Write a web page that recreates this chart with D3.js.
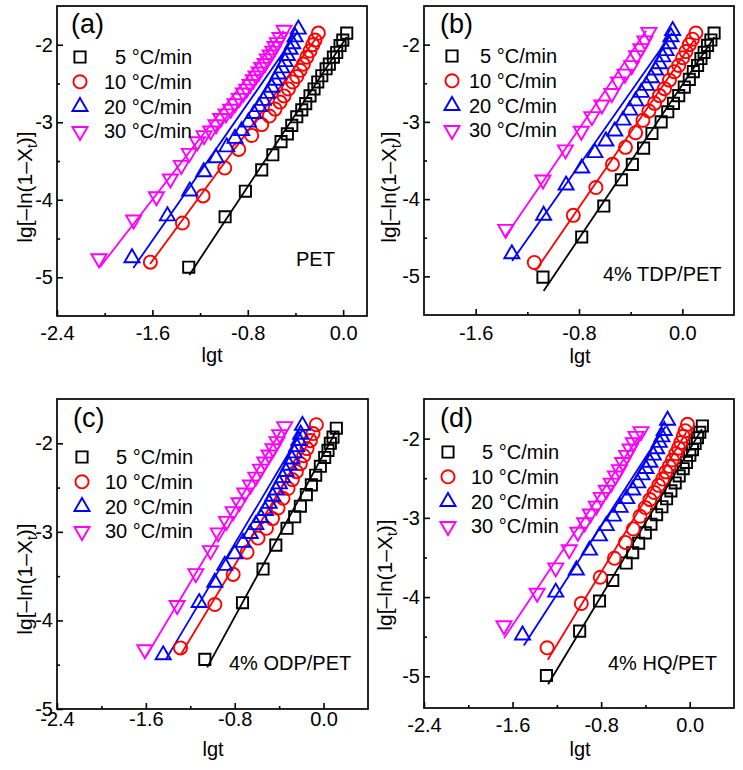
<!DOCTYPE html>
<html>
<head>
<meta charset="utf-8">
<script src="https://cdn.jsdelivr.net/npm/d3@7"></script>
<style>
  body { margin: 0; background: #fff; }
  text { font-family: "Liberation Sans", Arial, sans-serif; }
</style>
</head>
<body>
<svg id="chart" width="743" height="770"></svg>
<script>
// heating rates (legend) and series styling order
const rates = ["5 °C/min", "10 °C/min", "20 °C/min", "30 °C/min"]
const colors = ["#000000", "#ff0000", "#0000ff", "#ff00ff"]
const shapes = ["square", "circle", "up", "down"]

// (a) PET  [lgt, lg(-ln(1-Xt))]
const a5 = [[-1.295,-4.87],[-0.99,-4.22],[-0.82,-3.89],[-0.683,-3.615],[-0.59,-3.42],[-0.521,-3.25],[-0.468,-3.15],[-0.431,-3.04],[-0.389,-2.93],[-0.347,-2.84],[-0.314,-2.76],[-0.278,-2.66],[-0.244,-2.57],[-0.213,-2.48],[-0.179,-2.4],[-0.143,-2.31],[-0.116,-2.25],[-0.082,-2.16],[-0.054,-2.1],[-0.026,-2.01],[-0.003,-1.94],[0.03,-1.85]]
const a10 = [[-1.617,-4.805],[-1.348,-4.3],[-1.175,-3.95],[-0.993,-3.59],[-0.876,-3.35],[-0.767,-3.17],[-0.683,-3.03],[-0.619,-2.92],[-0.571,-2.83],[-0.529,-2.74],[-0.496,-2.66],[-0.459,-2.57],[-0.423,-2.48],[-0.389,-2.41],[-0.361,-2.33],[-0.334,-2.25],[-0.305,-2.16],[-0.278,-2.08],[-0.255,-2.0],[-0.236,-1.94],[-0.208,-1.85]]
const a20 = [[-1.771,-4.75],[-1.474,-4.21],[-1.287,-3.89],[-1.169,-3.64],[-1.066,-3.46],[-0.976,-3.32],[-0.907,-3.21],[-0.851,-3.11],[-0.795,-3.0],[-0.747,-2.89],[-0.705,-2.8],[-0.669,-2.72],[-0.636,-2.63],[-0.599,-2.55],[-0.571,-2.46],[-0.543,-2.38],[-0.515,-2.3],[-0.487,-2.22],[-0.468,-2.14],[-0.445,-2.06],[-0.423,-1.99],[-0.403,-1.9],[-0.376,-1.8]]
const a30 = [[-2.048,-4.76],[-1.757,-4.26],[-1.566,-3.96],[-1.449,-3.73],[-1.357,-3.555],[-1.29,-3.4],[-1.223,-3.25],[-1.167,-3.17],[-1.111,-3.11],[-1.066,-3.03],[-1.027,-2.95],[-0.982,-2.89],[-0.943,-2.83],[-0.907,-2.76],[-0.871,-2.69],[-0.837,-2.62],[-0.809,-2.57],[-0.781,-2.51],[-0.753,-2.45],[-0.731,-2.4],[-0.705,-2.35],[-0.683,-2.29],[-0.655,-2.24],[-0.636,-2.18],[-0.613,-2.13],[-0.59,-2.08],[-0.571,-2.02],[-0.552,-1.97],[-0.529,-1.905],[-0.496,-1.81]]
// fitted lines: [x0, y0, x1, y1]
const fitA = [[-1.29,-4.97,0.03,-1.9],[-1.62,-4.83,-0.21,-1.88],[-1.76,-4.88,-0.38,-1.83],[-2.04,-4.87,-0.5,-1.82]]

// (b) 4% TDP/PET
const b5 = [[-1.079,-5.01],[-0.779,-4.49],[-0.608,-4.09],[-0.472,-3.75],[-0.387,-3.55],[-0.3,-3.34],[-0.235,-3.15],[-0.164,-3.0],[-0.113,-2.87],[-0.069,-2.76],[-0.028,-2.66],[0.015,-2.55],[0.054,-2.45],[0.085,-2.35],[0.118,-2.27],[0.144,-2.18],[0.169,-2.1],[0.195,-2.01],[0.221,-1.94],[0.246,-1.85]]
const b10 = [[-1.146,-4.82],[-0.844,-4.21],[-0.669,-3.85],[-0.541,-3.55],[-0.44,-3.33],[-0.362,-3.14],[-0.305,-2.98],[-0.259,-2.86],[-0.215,-2.76],[-0.177,-2.66],[-0.138,-2.57],[-0.1,-2.46],[-0.062,-2.35],[-0.028,-2.27],[0.003,-2.17],[0.028,-2.09],[0.054,-2.0],[0.079,-1.93],[0.105,-1.85]]
const b20 = [[-1.32,-4.71],[-1.074,-4.21],[-0.9,-3.82],[-0.779,-3.6],[-0.677,-3.4],[-0.592,-3.25],[-0.523,-3.12],[-0.459,-2.98],[-0.408,-2.85],[-0.362,-2.73],[-0.318,-2.62],[-0.279,-2.53],[-0.241,-2.43],[-0.208,-2.33],[-0.177,-2.25],[-0.151,-2.16],[-0.126,-2.08],[-0.105,-1.99],[-0.088,-1.9],[-0.075,-1.82]]
const b30 = [[-1.367,-4.39],[-1.079,-3.75],[-0.905,-3.36],[-0.782,-3.12],[-0.7,-2.93],[-0.623,-2.78],[-0.546,-2.63],[-0.495,-2.48],[-0.444,-2.38],[-0.392,-2.27],[-0.354,-2.14],[-0.321,-2.05],[-0.29,-1.95],[-0.259,-1.84]]
const fitB = [[-1.074,-5.19,0.249,-1.9],[-1.138,-4.93,0.1,-1.92],[-1.318,-4.8,-0.08,-1.85],[-1.369,-4.48,-0.28,-1.82]]

// (c) 4% ODP/PET
const c5 = [[-1.069,-4.44],[-0.73,-3.8],[-0.545,-3.42],[-0.43,-3.15],[-0.329,-2.96],[-0.26,-2.83],[-0.209,-2.71],[-0.155,-2.58],[-0.11,-2.47],[-0.071,-2.36],[-0.029,-2.26],[0.01,-2.16],[0.04,-2.08],[0.061,-2.0],[0.085,-1.93],[0.115,-1.83]]
const c10 = [[-1.288,-4.31],[-0.979,-3.82],[-0.814,-3.48],[-0.689,-3.23],[-0.59,-3.07],[-0.514,-2.96],[-0.46,-2.85],[-0.41,-2.73],[-0.365,-2.62],[-0.32,-2.51],[-0.281,-2.41],[-0.245,-2.32],[-0.209,-2.23],[-0.179,-2.14],[-0.149,-2.06],[-0.119,-1.97],[-0.095,-1.89],[-0.065,-1.79]]
const c20 = [[-1.444,-4.39],[-1.12,-3.8],[-0.979,-3.57],[-0.89,-3.38],[-0.8,-3.25],[-0.725,-3.12],[-0.66,-3.02],[-0.61,-2.92],[-0.565,-2.84],[-0.525,-2.76],[-0.49,-2.68],[-0.458,-2.6],[-0.428,-2.53],[-0.398,-2.46],[-0.368,-2.39],[-0.338,-2.32],[-0.31,-2.25],[-0.285,-2.18],[-0.262,-2.11],[-0.242,-2.04],[-0.222,-1.97],[-0.206,-1.9],[-0.19,-1.8]]
const c30 = [[-1.609,-4.33],[-1.318,-3.83],[-1.15,-3.47],[-1.018,-3.21],[-0.949,-3.01],[-0.874,-2.88],[-0.814,-2.77],[-0.761,-2.67],[-0.709,-2.56],[-0.658,-2.47],[-0.61,-2.38],[-0.568,-2.29],[-0.53,-2.21],[-0.491,-2.13],[-0.455,-2.06],[-0.419,-1.98],[-0.395,-1.9],[-0.35,-1.81]]
const fitC = [[-1.048,-4.53,0.11,-1.87],[-1.288,-4.39,-0.08,-1.88],[-1.42,-4.44,-0.19,-1.85],[-1.6,-4.41,-0.38,-1.85]]

// (d) 4% HQ/PET
const d5 = [[-1.294,-4.99],[-0.994,-4.43],[-0.815,-4.05],[-0.695,-3.79],[-0.574,-3.57],[-0.515,-3.44],[-0.461,-3.32],[-0.401,-3.19],[-0.35,-3.08],[-0.299,-2.96],[-0.251,-2.86],[-0.209,-2.76],[-0.17,-2.66],[-0.131,-2.56],[-0.095,-2.47],[-0.059,-2.38],[-0.029,-2.3],[0.001,-2.21],[0.025,-2.14],[0.049,-2.06],[0.07,-1.99],[0.091,-1.92],[0.114,-1.84]]
const d10 = [[-1.288,-4.64],[-0.979,-4.08],[-0.808,-3.75],[-0.68,-3.51],[-0.581,-3.31],[-0.51,-3.14],[-0.449,-2.98],[-0.401,-2.87],[-0.359,-2.77],[-0.32,-2.68],[-0.281,-2.59],[-0.245,-2.51],[-0.215,-2.42],[-0.185,-2.35],[-0.155,-2.27],[-0.125,-2.19],[-0.101,-2.12],[-0.08,-2.05],[-0.059,-1.97],[-0.041,-1.9],[-0.02,-1.82]]
const d20 = [[-1.51,-4.48],[-1.21,-3.94],[-1.024,-3.66],[-0.905,-3.41],[-0.815,-3.23],[-0.754,-3.1],[-0.689,-2.98],[-0.628,-2.87],[-0.569,-2.76],[-0.515,-2.65],[-0.47,-2.56],[-0.431,-2.46],[-0.395,-2.38],[-0.359,-2.3],[-0.329,-2.21],[-0.299,-2.13],[-0.275,-2.05],[-0.251,-1.98],[-0.23,-1.9],[-0.2,-1.77]]
const d30 = [[-1.678,-4.36],[-1.378,-3.95],[-1.21,-3.63],[-1.088,-3.4],[-1.01,-3.18],[-0.949,-3.06],[-0.898,-2.95],[-0.844,-2.85],[-0.799,-2.74],[-0.754,-2.65],[-0.709,-2.56],[-0.671,-2.47],[-0.635,-2.39],[-0.605,-2.3],[-0.569,-2.21],[-0.538,-2.13],[-0.509,-2.05],[-0.485,-1.97],[-0.44,-1.91]]
const fitD = [[-1.279,-5.1,0.11,-1.88],[-1.282,-4.79,-0.03,-1.92],[-1.498,-4.61,-0.22,-1.85],[-1.678,-4.52,-0.467,-1.99]]

// axis ticks
const xMajorA = [-2.4, -1.6, -0.8, 0.0], xMinorA = [-2.0, -1.2, -0.4]
const xMajorB = [-1.6, -0.8, 0.0], xMinorB = [-1.2, -0.4]
const xMajorCD = [-2.4, -1.6, -0.8, 0.0], xMinorCD = [-2.0, -1.2, -0.4]
const yMajor = [-5, -4, -3, -2], yMinor = [-4.5, -3.5, -2.5]

const panels = [
  {tag:"(a)", name:"PET", series:[a5,a10,a20,a30], fits:fitA,
   xd:[-2.4,0.2], yd:[-5.5,-1.5], xMaj:xMajorA, xMin:xMinorA,
   L:57, R:367, T:6, B:316, xLab:24, tagPos:[71,33], leg:[80,57,192], namePos:[296,266],
   yTitle:[25,187], xTitle:[212,362]},
  {tag:"(b)", name:"4% TDP/PET", series:[b5,b10,b20,b30], fits:fitB,
   xd:[-2.0,0.4], yd:[-5.5,-1.5], xMaj:xMajorB, xMin:xMinorB,
   L:424, R:734, T:6, B:315, xLab:25, tagPos:[440,33], leg:[452,56,557], namePos:[603,281],
   yTitle:[389,187], xTitle:[580,363]},
  {tag:"(c)", name:"4% ODP/PET", series:[c5,c10,c20,c30], fits:fitC,
   xd:[-2.4,0.4], yd:[-5,-1.5], xMaj:xMajorCD, xMin:xMinorCD,
   L:57, R:368, T:399, B:709, xLab:17, tagPos:[73,427], leg:[82,457,193], namePos:[229,670],
   yTitle:[25,579], xTitle:[213,756]},
  {tag:"(d)", name:"4% HQ/PET", series:[d5,d10,d20,d30], fits:fitD,
   xd:[-2.4,0.4], yd:[-5.4,-1.5], xMaj:xMajorCD, xMin:xMinorCD,
   L:424, R:734, T:399, B:708, xLab:24, tagPos:[440,427], leg:[448,452,559], namePos:[608,670],
   yTitle:[385,575], xTitle:[580,756]}
]

const svg = d3.select("#chart")
const FS = 20
const fmtX = d => d3.format(".1f")(d).replace("\u2212", "-")
const fmtY = d => d3.format("d")(d).replace("\u2212", "-")

const symbolPath = (shape) => {
  if (shape === "square") return d3.symbol(d3.symbolSquare, 125)()
  if (shape === "circle") return d3.symbol(d3.symbolCircle, 135)()
  return d3.symbol(d3.symbolTriangle, 98)()
}

function marker(g, shape, color, cx, cy) {
  g.append("path")
    .attr("d", symbolPath(shape))
    .attr("transform", `translate(${cx},${cy})` + (shape === "down" ? " rotate(180)" : ""))
    .attr("fill", "none")
    .attr("stroke", color)
    .attr("stroke-width", 1.9)
}

function drawPanel(p) {
  const x = d3.scaleLinear().domain(p.xd).range([p.L, p.R])
  const y = d3.scaleLinear().domain(p.yd).range([p.B, p.T])
  const g = svg.append("g")

  //x axis, ticks pointing inward
  const xa = g.append("g").attr("transform", `translate(0,${p.B})`)
    .call(d3.axisBottom(x).tickValues(p.xMaj).tickSizeInner(-6).tickSizeOuter(0)
      .tickPadding(p.xLab - 14.2).tickFormat(fmtX))
  g.append("g").attr("transform", `translate(0,${p.B})`)
    .call(d3.axisBottom(x).tickValues(p.xMin).tickSizeInner(-3).tickSizeOuter(0).tickFormat(""))
  //y axis
  const ya = g.append("g").attr("transform", `translate(${p.L},0)`)
    .call(d3.axisLeft(y).tickValues(yMajor).tickSizeInner(-6).tickSizeOuter(0)
      .tickPadding(4).tickFormat(fmtY))
  g.append("g").attr("transform", `translate(${p.L},0)`)
    .call(d3.axisLeft(y).tickValues(yMinor).tickSizeInner(-3).tickSizeOuter(0).tickFormat(""))

  g.selectAll(".domain").remove()
  g.selectAll(".tick line").attr("stroke", "#000").attr("stroke-width", 1.6)
  g.selectAll(".tick text").attr("fill", "#000")
  ;[xa, ya].forEach(a => a.attr("font-size", FS).attr("font-family", "Liberation Sans, Arial, sans-serif"))

  //frame
  g.append("rect")
    .attr("x", p.L).attr("y", p.T)
    .attr("width", p.R - p.L).attr("height", p.B - p.T)
    .attr("fill", "none").attr("stroke", "#000").attr("stroke-width", 1.7)

  //fitted lines
  p.fits.forEach((f, i) => {
    g.append("line")
      .attr("x1", x(f[0])).attr("y1", y(f[1]))
      .attr("x2", x(f[2])).attr("y2", y(f[3]))
      .attr("stroke", colors[i]).attr("stroke-width", 1.8)
  })

  //data markers
  p.series.forEach((s, i) => {
    s.forEach(d => marker(g, shapes[i], colors[i], x(d[0]), y(d[1])))
  })

  //legend
  rates.forEach((r, i) => {
    const ry = p.leg[1] + i * 24.8
    marker(g, shapes[i], colors[i], p.leg[0], ry)
    g.append("text").attr("x", p.leg[2]).attr("y", ry + 7)
      .attr("text-anchor", "end").attr("font-size", FS).text(r)
  })

  //panel tag and sample name
  g.append("text").attr("x", p.tagPos[0]).attr("y", p.tagPos[1])
    .attr("font-size", 27).text(p.tag)
  g.append("text").attr("x", p.namePos[0]).attr("y", p.namePos[1])
    .attr("font-size", FS).text(p.name)

  //axis titles
  g.append("text").attr("x", p.xTitle[0]).attr("y", p.xTitle[1])
    .attr("text-anchor", "middle").attr("font-size", FS).text("lgt")
  const yt = g.append("text")
    .attr("transform", `translate(${p.yTitle[0]},${p.yTitle[1]}) rotate(-90)`)
    .attr("text-anchor", "middle").attr("font-size", 21)
  yt.append("tspan").text("lg[\u2013ln(1\u2013X")
  yt.append("tspan").attr("font-size", 14).attr("dy", 5).text("t")
  yt.append("tspan").attr("dy", -5).text(")]")
  yt.attr("dy", "0.35em")
}

panels.forEach(drawPanel)
</script>
</body>
</html>
